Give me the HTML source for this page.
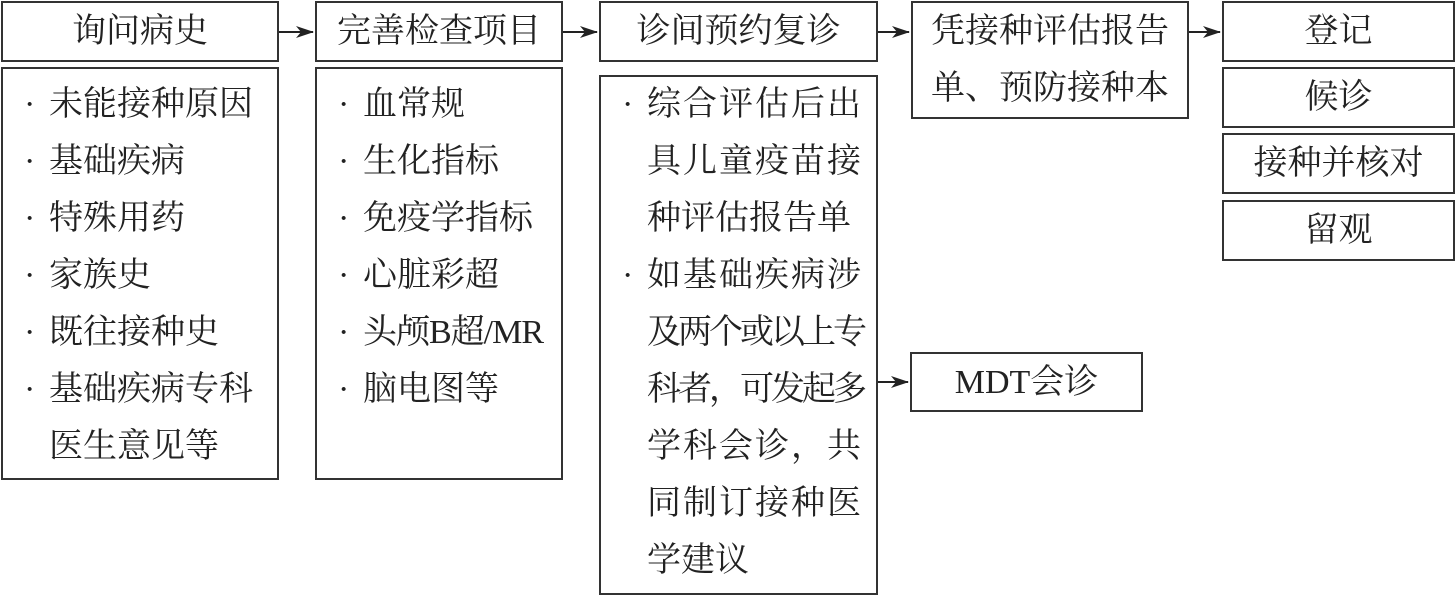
<!DOCTYPE html>
<html><head><meta charset="utf-8"><style>
body{margin:0;width:1456px;height:596px;background:#fff;position:relative;overflow:hidden;font-family:"Liberation Serif","Noto Serif CJK SC",serif;color:#222;}
.b{position:absolute;border:2px solid #333;box-sizing:border-box;}
.c{display:flex;align-items:center;justify-content:center;font-size:34px;text-align:center;line-height:57px;}
.t{position:absolute;font-size:34px;white-space:nowrap;line-height:57px;}
svg{position:absolute;left:0;top:0;}
</style></head><body>
<div class="b c" style="left:1px;top:1px;width:278px;height:61px;">询问病史</div>
<div class="b c" style="left:315px;top:1px;width:248px;height:61px;">完善检查项目</div>
<div class="b c" style="left:599px;top:1px;width:279px;height:61px;">诊间预约复诊</div>
<div class="b c" style="left:911px;top:1px;width:278px;height:118px;">凭接种评估报告<br>单、预防接种本</div>
<div class="b c" style="left:1222px;top:1px;width:233px;height:61px;">登记</div>
<div class="b c" style="left:1222px;top:67px;width:233px;height:61px;">候诊</div>
<div class="b c" style="left:1222px;top:133px;width:233px;height:61px;">接种并核对</div>
<div class="b c" style="left:1222px;top:200px;width:233px;height:61px;">留观</div>
<div class="b c" style="left:910px;top:352px;width:233px;height:60px;">MDT会诊</div>

<div class="b" style="left:1px;top:67px;width:278px;height:413px;"></div>
<div class="t" style="left:24px;top:76px;">·</div><div class="t" style="left:49px;top:76px;">未能接种原因</div>
<div class="t" style="left:24px;top:133px;">·</div><div class="t" style="left:49px;top:133px;">基础疾病</div>
<div class="t" style="left:24px;top:190px;">·</div><div class="t" style="left:49px;top:190px;">特殊用药</div>
<div class="t" style="left:24px;top:247px;">·</div><div class="t" style="left:49px;top:247px;">家族史</div>
<div class="t" style="left:24px;top:304px;">·</div><div class="t" style="left:49px;top:304px;">既往接种史</div>
<div class="t" style="left:24px;top:361px;">·</div><div class="t" style="left:49px;top:361px;">基础疾病专科</div>
<div class="t" style="left:49px;top:418px;">医生意见等</div>

<div class="b" style="left:315px;top:67px;width:248px;height:413px;"></div>
<div class="t" style="left:338px;top:76px;">·</div><div class="t" style="left:363px;top:76px;">血常规</div>
<div class="t" style="left:338px;top:133px;">·</div><div class="t" style="left:363px;top:133px;">生化指标</div>
<div class="t" style="left:338px;top:190px;">·</div><div class="t" style="left:363px;top:190px;">免疫学指标</div>
<div class="t" style="left:338px;top:247px;">·</div><div class="t" style="left:363px;top:247px;">心脏彩超</div>
<div class="t" style="left:338px;top:304px;">·</div><div class="t" style="left:363px;top:304px;letter-spacing:-1px;">头颅B超/MR</div>
<div class="t" style="left:338px;top:361px;">·</div><div class="t" style="left:363px;top:361px;">脑电图等</div>

<div class="b" style="left:599px;top:75px;width:279px;height:520px;"></div>
<div class="t" style="left:622px;top:76px;">·</div><div class="t" style="left:647px;top:76px;letter-spacing:2px;">综合评估后出</div>
<div class="t" style="left:647px;top:133px;letter-spacing:2px;">具儿童疫苗接</div>
<div class="t" style="left:647px;top:190px;">种评估报告单</div>
<div class="t" style="left:622px;top:247px;">·</div><div class="t" style="left:647px;top:247px;letter-spacing:2px;">如基础疾病涉</div>
<div class="t" style="left:647px;top:304px;letter-spacing:-3px;">及两个或以上专</div>
<div class="t" style="left:647px;top:361px;letter-spacing:-3px;">科者，可发起多</div>
<div class="t" style="left:647px;top:418px;letter-spacing:2px;">学科会诊，共</div>
<div class="t" style="left:647px;top:475px;letter-spacing:2px;">同制订接种医</div>
<div class="t" style="left:647px;top:532px;">学建议</div>

<svg width="1456" height="596">
<defs><marker id="a" markerWidth="18" markerHeight="12" refX="17" refY="6" orient="auto" markerUnits="userSpaceOnUse"><path d="M0,0 L18,6 L0,12 L5,6 Z" fill="#222"/></marker></defs>
<g stroke="#222" stroke-width="2">
<line x1="279" y1="32" x2="313" y2="32" marker-end="url(#a)"/>
<line x1="563" y1="32" x2="597" y2="32" marker-end="url(#a)"/>
<line x1="878" y1="32" x2="909" y2="32" marker-end="url(#a)"/>
<line x1="1189" y1="32" x2="1220" y2="32" marker-end="url(#a)"/>
<line x1="878" y1="382" x2="908" y2="382" marker-end="url(#a)"/>
</g></svg>
</body></html>
